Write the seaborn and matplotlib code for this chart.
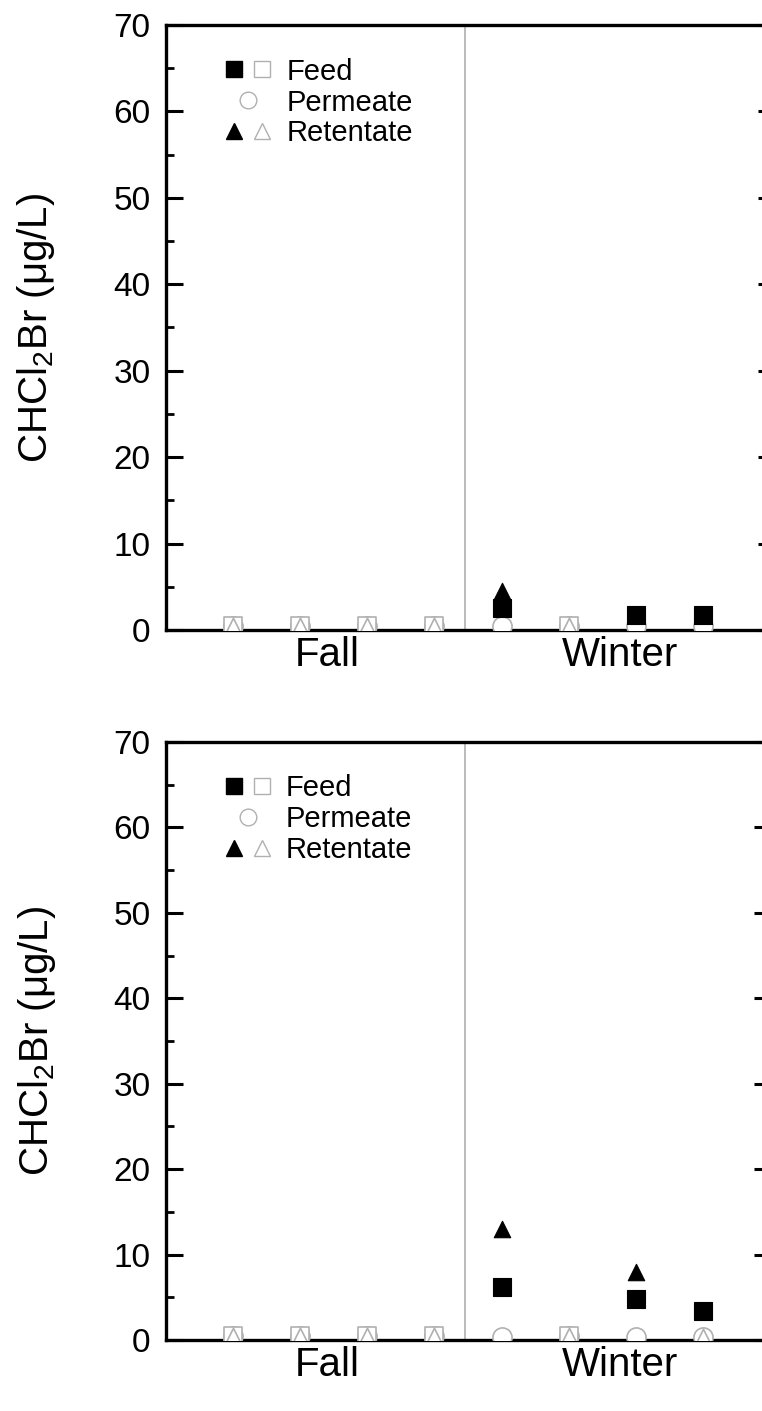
import numpy as np
import pandas as pd
import matplotlib
matplotlib.use("Agg")
import matplotlib.pyplot as plt
import seaborn as sns
from matplotlib.lines import Line2D
from matplotlib.legend_handler import HandlerTuple
from matplotlib.ticker import MultipleLocator

nan = np.nan

# Sampling events: 4 in fall, 4 in winter
sample = [1, 2, 3, 4, 5, 6, 7, 8]
season_labels = ["Fall", "Winter"]
season_label_pos = [2.41, 6.76]
season_split = 4.45

# Upper panel (CHCl2Br, µg/L); detected flag 1 = filled marker, 0 = open (below detection)
feed_top = [0.5, 0.5, 0.5, 0.5, 2.55, 0.5, 1.7, 1.75]
feed_top_det = [0, 0, 0, 0, 1, 0, 1, 1]
perm_top = [0.5, 0.5, 0.5, 0.5, 0.5, 0.5, 0.45, 0.45]
ret_top = [0.5, 0.5, 0.5, 0.5, 4.55, 0.5, nan, nan]
ret_top_det = [0, 0, 0, 0, 1, 0, 0, 0]

# Lower panel
feed_bot = [0.5, 0.5, 0.5, 0.5, 6.2, 0.5, 4.8, 3.4]
feed_bot_det = [0, 0, 0, 0, 1, 0, 1, 1]
perm_bot = [0.5, 0.5, 0.5, 0.5, 0.4, 0.5, 0.4, 0.4]
ret_bot = [0.5, 0.5, 0.5, 0.5, 13.0, 0.5, 8.0, 0.4]
ret_bot_det = [0, 0, 0, 0, 1, 0, 1, 0]

y_ticks = [0, 10, 20, 30, 40, 50, 60, 70]
y_label = r"CHCl$_2$Br ($\mu$g/L)"

sns.set_theme(style="white")
plt.rcParams["font.family"] = ["Liberation Sans", "DejaVu Sans"]
plt.rcParams["mathtext.fontset"] = "custom"
plt.rcParams["mathtext.rm"] = "Liberation Sans"
plt.rcParams["mathtext.it"] = "Liberation Sans"
for key in ["text.color", "axes.labelcolor", "xtick.color", "ytick.color", "axes.edgecolor"]:
    plt.rcParams[key] = "black"

GRAY = "#b0b0b0"
MS = 165  # marker area in pt^2


def long_frame(feed, feed_det, perm, ret, ret_det):
    rows = []
    for i, s in enumerate(sample):
        rows.append(("Permeate", s, perm[i], 0))
        rows.append(("Feed", s, feed[i], feed_det[i]))
        rows.append(("Retentate", s, ret[i], ret_det[i]))
    return pd.DataFrame(rows, columns=["stream", "sample", "conc", "detected"])


def draw_panel(ax, df, xmax):
    perm = df[df.stream == "Permeate"]
    sns.scatterplot(data=perm, x="sample", y="conc", marker="o", s=MS * 1.15,
                    color="white", edgecolor=GRAY, linewidth=1.2, ax=ax, zorder=3)
    for stream, mk, size in [("Feed", "s", MS), ("Retentate", "^", MS * 0.85)]:
        sub = df[df.stream == stream]
        open_ = sub[sub.detected == 0]
        filled = sub[sub.detected == 1]
        sns.scatterplot(data=open_, x="sample", y="conc", marker=mk, s=size,
                        color="white", edgecolor=GRAY, linewidth=1.2, ax=ax, zorder=4)
        sns.scatterplot(data=filled, x="sample", y="conc", marker=mk, s=size,
                        color="black", edgecolor="black", linewidth=0.8, ax=ax, zorder=5)

    ax.axvline(season_split, color="#b5b5b5", lw=1.3, zorder=1)
    ax.set_xlim(0, xmax)
    ax.set_ylim(0, 70)
    ax.set_yticks(y_ticks)
    ax.yaxis.set_minor_locator(MultipleLocator(5))
    ax.set_xticks(season_label_pos)
    ax.set_xticklabels(season_labels, fontsize=29)
    ax.tick_params(axis="x", length=0, pad=4)
    ax.tick_params(axis="y", which="major", direction="in", length=12, width=2.2,
                   labelsize=24, pad=11, right=True, left=True)
    ax.tick_params(axis="y", which="minor", direction="in", length=6, width=2.0,
                   right=True, left=True)
    ax.set_xlabel("")
    ax.set_ylabel(y_label, fontsize=29)
    ax.yaxis.set_label_coords(-0.178, 0.5)
    for side in ["left", "bottom", "top", "right"]:
        ax.spines[side].set_visible(True)
        ax.spines[side].set_color("black")
        ax.spines[side].set_linewidth(2.4)

    fs = Line2D([], [], marker="s", ls="", color="black", markersize=12)
    os_ = Line2D([], [], marker="s", ls="", markerfacecolor="white",
                 markeredgecolor=GRAY, markersize=12)
    oc = Line2D([], [], marker="o", ls="", markerfacecolor="white",
                markeredgecolor=GRAY, markersize=12)
    ft = Line2D([], [], marker="^", ls="", color="black", markersize=11)
    ot = Line2D([], [], marker="^", ls="", markerfacecolor="white",
                markeredgecolor=GRAY, markersize=11)
    ax.legend([(fs, os_), oc, (ft, ot)], ["Feed", "Permeate", "Retentate"],
              handler_map={tuple: HandlerTuple(ndivide=None, pad=0.3)},
              loc="upper left", bbox_to_anchor=(0.068, 0.975), frameon=False,
              fontsize=21, handlelength=1.6, handletextpad=0.5, labelspacing=0.1,
              borderaxespad=0.2)


fig = plt.figure(figsize=(7.62, 14.11), dpi=100)
ax_top = fig.add_axes([0.2178, 0.5535, 0.7998, 0.4288])
ax_bot = fig.add_axes([0.2178, 0.0503, 0.7946, 0.4238])

draw_panel(ax_top, long_frame(feed_top, feed_top_det, perm_top, ret_top, ret_top_det), 9.08)
draw_panel(ax_bot, long_frame(feed_bot, feed_bot_det, perm_bot, ret_bot, ret_bot_det), 9.02)

fig.savefig("out.png", dpi=100)
